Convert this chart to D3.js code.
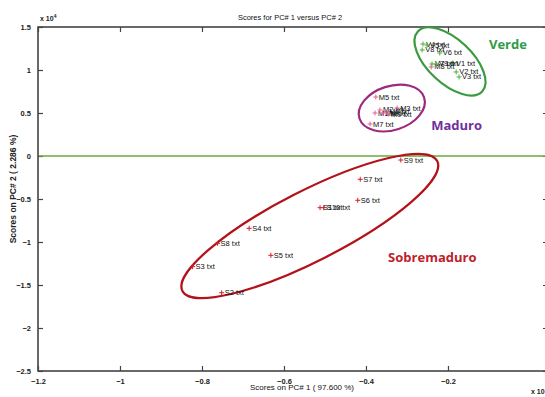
<!DOCTYPE html>
<html><head><meta charset="utf-8">
<script src="https://cdn.jsdelivr.net/npm/d3@7"></script>
<style>
html,body{margin:0;padding:0;background:#fff;overflow:hidden;}
text{font-family:"Liberation Sans Narrow","Arial Narrow","Liberation Sans",sans-serif;}
</style></head>
<body>
<svg id="c" width="545" height="397"></svg>
<script>
// ---- data (scores, x 10^4) ----
const sNames = ["S1","S10","S2","S3","S4","S5","S6","S7","S8","S9"];
const sX = [-0.512,-0.503,-0.752,-0.823,-0.685,-0.632,-0.420,-0.414,-0.762,-0.315];
const sY = [-0.601,-0.601,-1.590,-1.287,-0.841,-1.155,-0.515,-0.271,-1.016,-0.047];

const mNames = ["M1","M2","M3","M4","M5","M6","M7","M8","M9"];
const mX = [-0.378,-0.366,-0.324,-0.359,-0.376,-0.351,-0.390,-0.241,-0.346];
const mY = [0.500,0.535,0.558,0.500,0.686,0.512,0.372,1.035,0.488];

const vNames = ["V1","V2","V3","V4","V5","V6","V7","V8","V9"];
const vX = [-0.188,-0.180,-0.173,-0.261,-0.251,-0.220,-0.239,-0.263,-0.229];
const vY = [1.081,0.977,0.919,1.302,1.290,1.198,1.070,1.233,1.070];

const xTicks = [-1.2,-1,-0.8,-0.6,-0.4,-0.2];
const yTicks = [-2.5,-2,-1.5,-1,-0.5,0,0.5,1,1.5];

// group ellipses: name, cx, cy (data), rx, ry (px), rotation (deg)
const groupNames = ["Sobremaduro","Maduro","Verde"];
const groupCx = [-0.537,-0.337,-0.195];
const groupCy = [-0.814,0.558,1.100];
const groupRx = [143,34,44];
const groupRy = [35,22,22];
const groupRot = [-27,-18,43];
const groupColors = ["#b3121b","#9c2a7e","#3a9a3f"];
const groupLabelColors = ["#c0202a","#6f2f9e","#2f9a48"];
const groupLabelX = [-0.346,-0.241,-0.100];
const groupLabelY = [-1.233,0.300,1.244];

// ---- chart ----
const svg = d3.select("#c");
const L = 38, T = 27, B = 371, R = 548;
const x = d3.scaleLinear().domain([-1.2, 0.044]).range([L, R]);
const y = d3.scaleLinear().domain([-2.5, 1.5]).range([B, T]);
const axisCol = "#444";

// frame
svg.append("rect").attr("x",L).attr("y",T).attr("width",R-L).attr("height",B-T)
  .attr("fill","none").attr("stroke",axisCol).attr("stroke-width",1.6);

// axes (ticks inward)
const fmt = d => d3.format("")(d);
const gx = svg.append("g").attr("transform",`translate(0,${B})`)
  .call(d3.axisBottom(x).tickValues(xTicks).tickSizeInner(-5).tickSizeOuter(0).tickPadding(8).tickFormat(fmt));
const gxt = svg.append("g").attr("transform",`translate(0,${T})`)
  .call(d3.axisTop(x).tickValues(xTicks).tickSizeInner(-5).tickSizeOuter(0).tickFormat(""));
const gy = svg.append("g").attr("transform",`translate(${L},0)`)
  .call(d3.axisLeft(y).tickValues(yTicks).tickSizeInner(-5).tickSizeOuter(0).tickPadding(7).tickFormat(fmt));
const gyr = svg.append("g").attr("transform",`translate(${R},0)`)
  .call(d3.axisRight(y).tickValues(yTicks).tickSizeInner(-5).tickSizeOuter(0).tickFormat(""));
[gx,gxt,gy,gyr].forEach(g=>{
  g.select(".domain").remove();
  g.selectAll("line").attr("stroke",axisCol).attr("stroke-width",1.2);
  g.selectAll("text").attr("fill","#222").attr("font-size",7.5).attr("font-weight","bold")
    .style("font-family","'Liberation Sans Narrow','Liberation Sans',sans-serif");
});

// exponent labels
const e1 = svg.append("text").attr("x",L+2).attr("y",T-6).attr("font-size",7).attr("font-weight","bold").attr("fill","#222");
e1.append("tspan").text("x 10");
e1.append("tspan").attr("dy",-3).attr("font-size",5).text("4");
svg.append("text").attr("x",531).attr("y",394).attr("font-size",7).attr("font-weight","bold").attr("fill","#222").text("x 10");

// zero line
svg.append("line").attr("x1",L+1).attr("x2",R).attr("y1",y(0)).attr("y2",y(0))
  .attr("stroke","#6aa83c").attr("stroke-width",1.3);

// titles
svg.append("text").attr("x",290).attr("y",20).attr("text-anchor","middle").attr("font-size",7.5).attr("fill","#111")
  .text("Scores for PC# 1 versus PC# 2");
svg.append("text").attr("x",302).attr("y",390).attr("text-anchor","middle").attr("font-size",8).attr("fill","#111")
  .text("Scores on PC# 1 ( 97.600 %)");
svg.append("text").attr("transform",`translate(16,${(T+B)/2 - 10}) rotate(-90)`).attr("text-anchor","middle")
  .attr("font-size",8.5).attr("font-weight","bold").attr("fill","#222").text("Scores on PC# 2 ( 2.286 %)");

// ellipses
groupNames.forEach((g,i)=>{
  svg.append("ellipse").attr("cx",x(groupCx[i])).attr("cy",y(groupCy[i]))
    .attr("rx",groupRx[i]).attr("ry",groupRy[i])
    .attr("transform",`rotate(${groupRot[i]},${x(groupCx[i])},${y(groupCy[i])})`)
    .attr("fill","none").attr("stroke",groupColors[i]).attr("stroke-width",2.2);
  svg.append("text").attr("x",x(groupLabelX[i])).attr("y",y(groupLabelY[i]))
    .attr("font-size",13).attr("font-weight","bold").attr("fill",groupLabelColors[i])
    .style("font-family","'Open Sans','Liberation Sans',sans-serif").text(g);
});

// points
function drawSet(names, xs, ys, col){
  const g = svg.append("g");
  names.forEach((n,i)=>{
    const px = x(xs[i]), py = y(ys[i]);
    g.append("path").attr("d",`M${px-2.5},${py}H${px+2.5}M${px},${py-2.5}V${py+2.5}`)
      .attr("stroke",col).attr("stroke-width",1);
    g.append("text").attr("x",px+3).attr("y",py+2.5).attr("font-size",7.5).attr("fill","#111")
      .text(n+" txt");
  });
}
drawSet(sNames,sX,sY,"#d0202a");
drawSet(mNames,mX,mY,"#e0609a");
drawSet(vNames,vX,vY,"#4caf3a");
</script>
</body></html>
